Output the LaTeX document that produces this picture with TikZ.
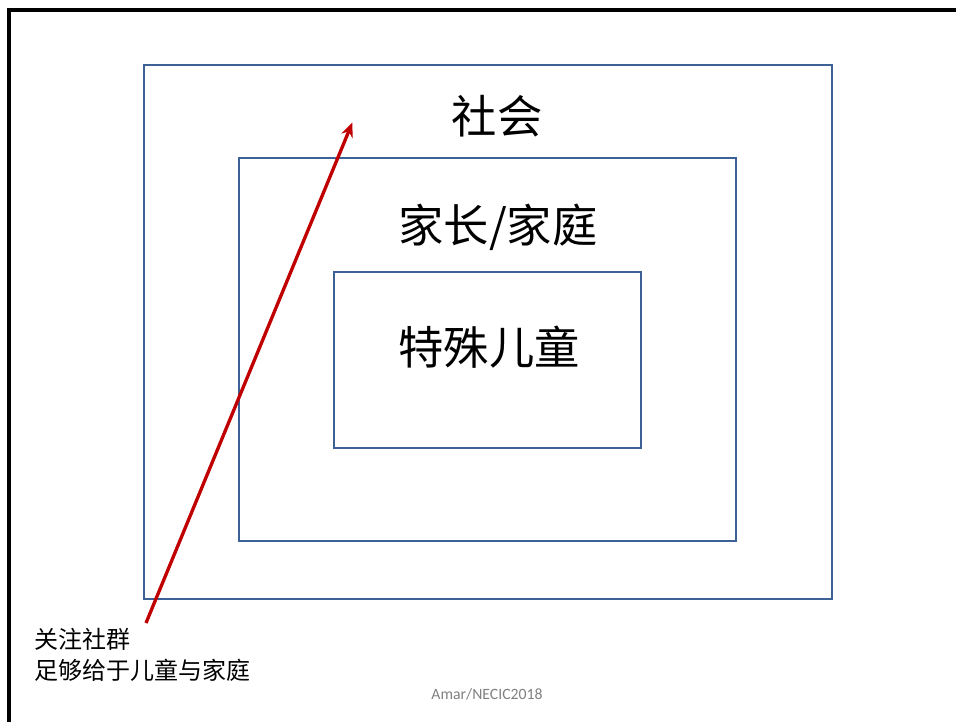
\documentclass[tikz,border=0pt]{standalone}
\usepackage{fontspec}
\setmainfont{Carlito}
\newfontfamily\cjk{Noto Sans CJK SC}
\usepackage{xcolor}
\usetikzlibrary{arrows.meta, positioning, calc}

\definecolor{boxblue}{HTML}{3C6197}
\definecolor{arrowred}{HTML}{C00000}

\begin{document}
\begin{tikzpicture}[
        x=0.75pt, y=-0.75pt,
        >={Stealth[length=11pt, width=9pt]},
        layer/.style={draw=boxblue, line width=2.1pt},
        frame/.style={line width=2.6pt, black},
        bigtext/.style={font=\cjk\fontsize{34}{40}\selectfont, inner sep=0pt},
        note/.style={font=\cjk\fontsize{18}{23}\selectfont, align=left, anchor=north west, inner sep=0pt},
        pointer/.style={->, line width=2.5pt, arrowred, shorten >=1pt}
        ]
        \useasboundingbox (0,0) rectangle (956,722);

        % Slide frame (top and left edges)
        \draw[frame] (9,722) -- (9,10) -- (956,10);

        % Nested layers
        \draw[layer] (144,65) rectangle (832,599);
        \draw[layer] (239,158) rectangle (736,541);
        \draw[layer] (334,272) rectangle (641,448);

        % Layer labels
        \node[bigtext] (society) at (497,116) {社会};
        \node[bigtext] (family) at (498,227) {家长/家庭};
        \node[bigtext] (child) at (489,347) {特殊儿童};

        % Note and arrow
        \node[note] (note) at (34,628) {关注社群\\足够给于儿童与家庭};
        \coordinate (tail) at (146,623);
        \coordinate (head) at (353,121);
        \draw[pointer] (tail) -- (head);

        % Credit
        \node[font=\fontsize{11.8}{13}\selectfont, text=black!50] (credit) at (487,694) {Amar/NECIC2018};
    \end{tikzpicture}
\end{document}
